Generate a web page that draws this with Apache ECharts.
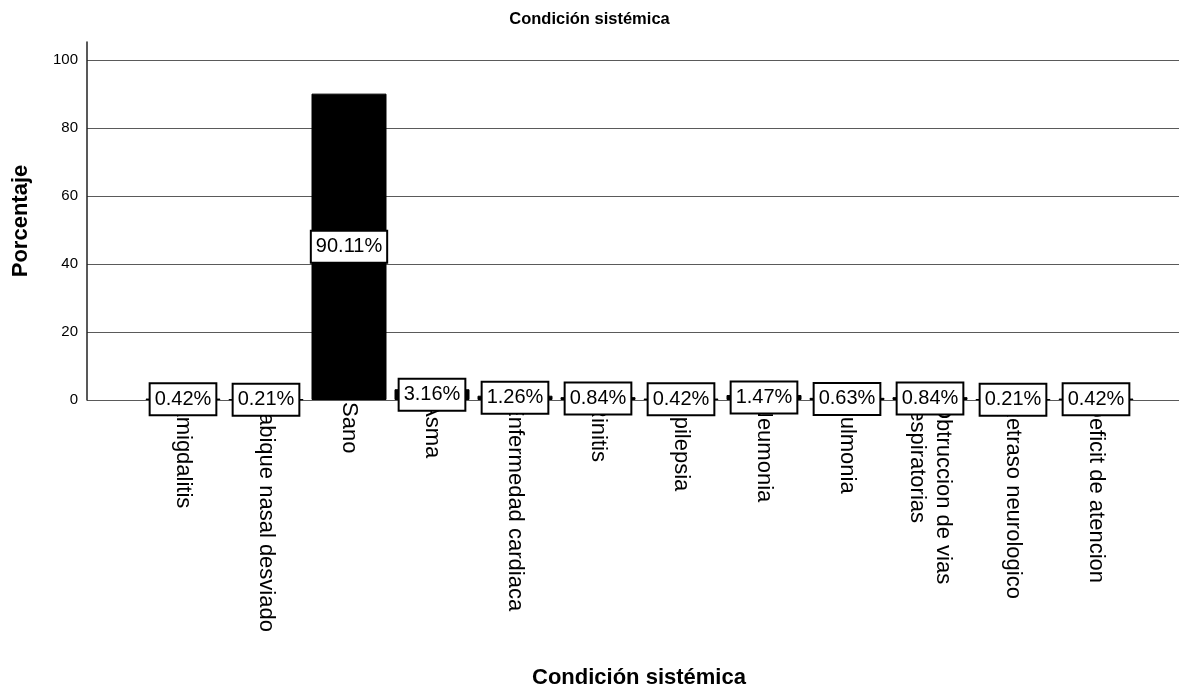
<!DOCTYPE html>
<html>
<head>
<meta charset="utf-8">
<script src="https://cdn.jsdelivr.net/npm/echarts@6/dist/echarts.min.js"></script>
<style>
  html, body { margin: 0; padding: 0; background: #fff; }
  #chart { width: 1179px; height: 687px; }
</style>
</head>
<body>
<div id="chart"></div>
<script>
// Condición sistémica — percentage of cases per systemic condition
const categories = [
  'Amigdalitis',
  'Tabique nasal desviado',
  'Sano',
  'Asma',
  'Enfermedad cardiaca',
  'Rinitis',
  'Epilepsia',
  'Neumonia',
  'Pulmonia',
  'Obtruccion de vias\nrespiratorias',
  'Retraso neurologico',
  'Deficit de atencion'
];
const percentages = [0.42, 0.21, 90.11, 3.16, 1.26, 0.84, 0.42, 1.47, 0.63, 0.84, 0.21, 0.42];
const yTicks = [0, 20, 40, 60, 80, 100];

const FONT = '"Liberation Sans", Arial, sans-serif';
const chart = echarts.init(document.getElementById('chart'), null, { renderer: 'canvas' });

const gridBottom = 287;
chart.setOption({
  backgroundColor: '#ffffff',
  animation: false,
  title: [
    {
      text: 'Condición sistémica',
      left: 'center',
      top: 6,
      textStyle: { fontFamily: FONT, fontSize: 16.5, fontWeight: 'bold', color: '#000' }
    },
    {
      text: 'Condición sistémica',
      left: 527,
      top: 662,
      textStyle: { fontFamily: FONT, fontSize: 22, fontWeight: 'bold', color: '#000' }
    }
  ],
  grid: [
    // value grid: tick labels and horizontal gridlines
    { left: 87, right: 0, top: 60, bottom: gridBottom },
    // full-height vertical axis line
    { left: 87, right: 0, top: 42, bottom: gridBottom },
    // bars and category labels
    { left: 141.5, right: 41.5, top: 60, bottom: gridBottom }
  ],
  xAxis: [
    { gridIndex: 0, type: 'value', min: 0, max: 1, show: false },
    { gridIndex: 1, type: 'value', min: 0, max: 1, show: false },
    {
      gridIndex: 2,
      type: 'category',
      data: categories,
      axisLine: { show: false },
      axisTick: { show: false },
      axisLabel: {
        rotate: -90,
        margin: 2,
        interval: 0,
        fontFamily: FONT,
        fontSize: 22,
        color: '#000',
        lineHeight: 26,
        padding: [10, 0, 0, 0]
      }
    }
  ],
  yAxis: [
    {
      gridIndex: 0,
      type: 'value',
      min: yTicks[0],
      max: yTicks[yTicks.length - 1],
      interval: 20,
      axisLine: { show: false },
      axisTick: { show: false },
      axisLabel: { margin: 9, fontFamily: FONT, fontSize: 15, color: '#000' },
      splitLine: { show: true, lineStyle: { color: '#5a5a5a', width: 1 } }
    },
    {
      gridIndex: 1,
      type: 'value',
      min: 0,
      max: 1,
      axisLine: { show: true, lineStyle: { color: '#222', width: 1.5 } },
      axisTick: { show: false },
      axisLabel: { show: false },
      splitLine: { show: false },
      name: 'Porcentaje',
      nameLocation: 'middle',
      nameGap: 55,
      nameTextStyle: { fontFamily: FONT, fontSize: 22, fontWeight: 'bold', color: '#000' }
    },
    {
      gridIndex: 2,
      type: 'value',
      min: yTicks[0],
      max: yTicks[yTicks.length - 1],
      show: false
    }
  ],
  series: [
    {
      type: 'bar',
      xAxisIndex: 2,
      yAxisIndex: 2,
      data: percentages,
      barWidth: 75,
      itemStyle: { color: '#000', borderColor: '#000', borderWidth: 1 },
      label: {
        show: true,
        position: 'inside',
        formatter: p => p.value.toFixed(2) + '%',
        fontFamily: FONT,
        fontSize: 20,
        color: '#000',
        backgroundColor: '#fff',
        borderColor: '#000',
        borderWidth: 2,
        padding: [5, 4, 5, 4]
      }
    }
  ]
});
</script>
</body>
</html>
